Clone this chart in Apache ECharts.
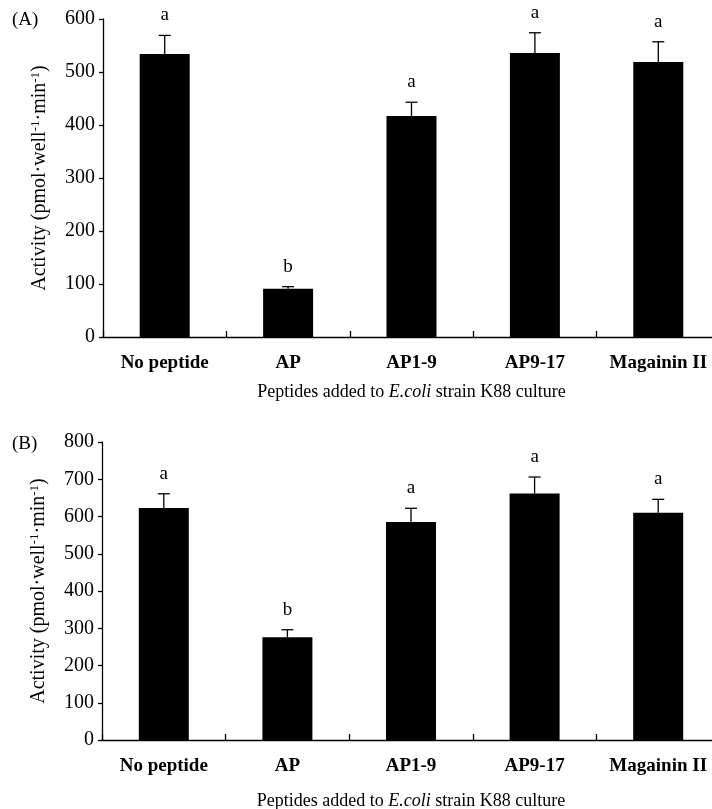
<!DOCTYPE html>
<html>
<head>
<meta charset="utf-8">
<script src="https://cdn.jsdelivr.net/npm/echarts@6/dist/echarts.min.js"></script>
<style>
html,body{margin:0;padding:0;background:#fff;}
#main{width:712px;height:809px;}
</style>
</head>
<body>
<div id="main"></div>
<script>
var categories = ['No peptide', 'AP', 'AP1-9', 'AP9-17', 'Magainin II'];
var meansA = [534, 91, 417, 536, 519];
var errA = [35, 4, 26, 38, 38];
var lettersA = ['a', 'b', 'a', 'a', 'a'];
var meansB = [623, 276, 585, 662, 610];
var errB = [38, 20, 37, 44, 36];
var lettersB = ['a', 'b', 'a', 'a', 'a'];
var yTicksA = {min: 0, max: 600, interval: 100};
var yTicksB = {min: 0, max: 800, interval: 100};

var FONT = '"Liberation Serif", "Times New Roman", serif';
var chart = echarts.init(document.getElementById('main'), null, {renderer: 'canvas'});

function errData(means, errs, letters) {
  return means.map(function (m, i) { return {value: [i, m, errs[i]], letter: letters[i]}; });
}

function renderErr(params, api) {
  var idx = api.value(0), m = api.value(1), e = api.value(2);
  var p0 = api.coord([idx, m]);
  var p1 = api.coord([idx, m + e]);
  var item = params.dataIndex;
  var letter = params.seriesIndex === 2 ? lettersA[item] : lettersB[item];
  var style = {stroke: '#000', lineWidth: 1.3};
  return {
    type: 'group',
    children: [
      {type: 'line', shape: {x1: p0[0], y1: p0[1], x2: p1[0], y2: p1[1]}, style: style},
      {type: 'line', shape: {x1: p1[0] - 6, y1: p1[1], x2: p1[0] + 6, y2: p1[1]}, style: style},
      {type: 'text', x: p1[0], y: p1[1] - 20,
        style: {text: letter, fill: '#000', font: '19px ' + FONT, align: 'center', verticalAlign: 'middle'}}
    ]
  };
}

var yName = 'Activity (pmol·well{sup|-1}·min{sup|-1})';
function yAxis(gi, t) {
  return {
    type: 'value', gridIndex: gi, min: t.min, max: t.max, interval: t.interval,
    name: yName, nameLocation: 'middle', nameGap: 52,
    nameTextStyle: {fontFamily: FONT, fontSize: 20, color: '#000', lineHeight: 22,
      rich: {sup: {fontFamily: FONT, fontSize: 13, color: '#000', verticalAlign: 'top', lineHeight: 12}}},
    axisLine: {show: true, lineStyle: {color: '#000', width: 1.3}},
    axisTick: {show: true, length: 4, lineStyle: {color: '#000', width: 1.3}},
    axisLabel: {fontFamily: FONT, fontSize: 20, color: '#000', margin: 8},
    splitLine: {show: false}
  };
}
function xAxis(gi, gap) {
  return {
    type: 'category', gridIndex: gi, data: categories,
    name: 'Peptides added to {i|E.coli} strain K88 culture', nameLocation: 'middle', nameGap: gap,
    nameTextStyle: {fontFamily: FONT, fontSize: 18, color: '#000',
      rich: {i: {fontFamily: FONT, fontSize: 18, color: '#000', fontStyle: 'italic'}}},
    axisLine: {show: true, lineStyle: {color: '#000', width: 1.3}},
    axisTick: {show: true, inside: true, length: 6, alignWithLabel: false, lineStyle: {color: '#000', width: 1.3}},
    axisLabel: {fontFamily: FONT, fontSize: 19, fontWeight: 'bold', color: '#000', margin: 17, interval: 0},
    splitLine: {show: false}
  };
}

chart.setOption({
  animation: false,
  backgroundColor: '#fff',
  grid: [
    {left: 103, width: 617, top: 19, height: 318, containLabel: false, outerBoundsMode: 'none'},
    {left: 102, width: 618, top: 442, height: 298, containLabel: false, outerBoundsMode: 'none'}
  ],
  xAxis: [xAxis(0, 46), xAxis(1, 52)],
  yAxis: [yAxis(0, yTicksA), yAxis(1, yTicksB)],
  graphic: [
    {type: 'text', left: 12, top: 11, style: {text: '(A)', font: '19px ' + FONT, fill: '#000'}},
    {type: 'text', left: 12, top: 435, style: {text: '(B)', font: '19px ' + FONT, fill: '#000'}}
  ],
  series: [
    {type: 'bar', xAxisIndex: 0, yAxisIndex: 0, data: meansA, barWidth: 50, itemStyle: {color: '#000'}},
    {type: 'bar', xAxisIndex: 1, yAxisIndex: 1, data: meansB, barWidth: 50, itemStyle: {color: '#000'}},
    {type: 'custom', xAxisIndex: 0, yAxisIndex: 0, renderItem: renderErr, data: errData(meansA, errA, lettersA), z: 5},
    {type: 'custom', xAxisIndex: 1, yAxisIndex: 1, renderItem: renderErr, data: errData(meansB, errB, lettersB), z: 5}
  ]
});
</script>
</body>
</html>
